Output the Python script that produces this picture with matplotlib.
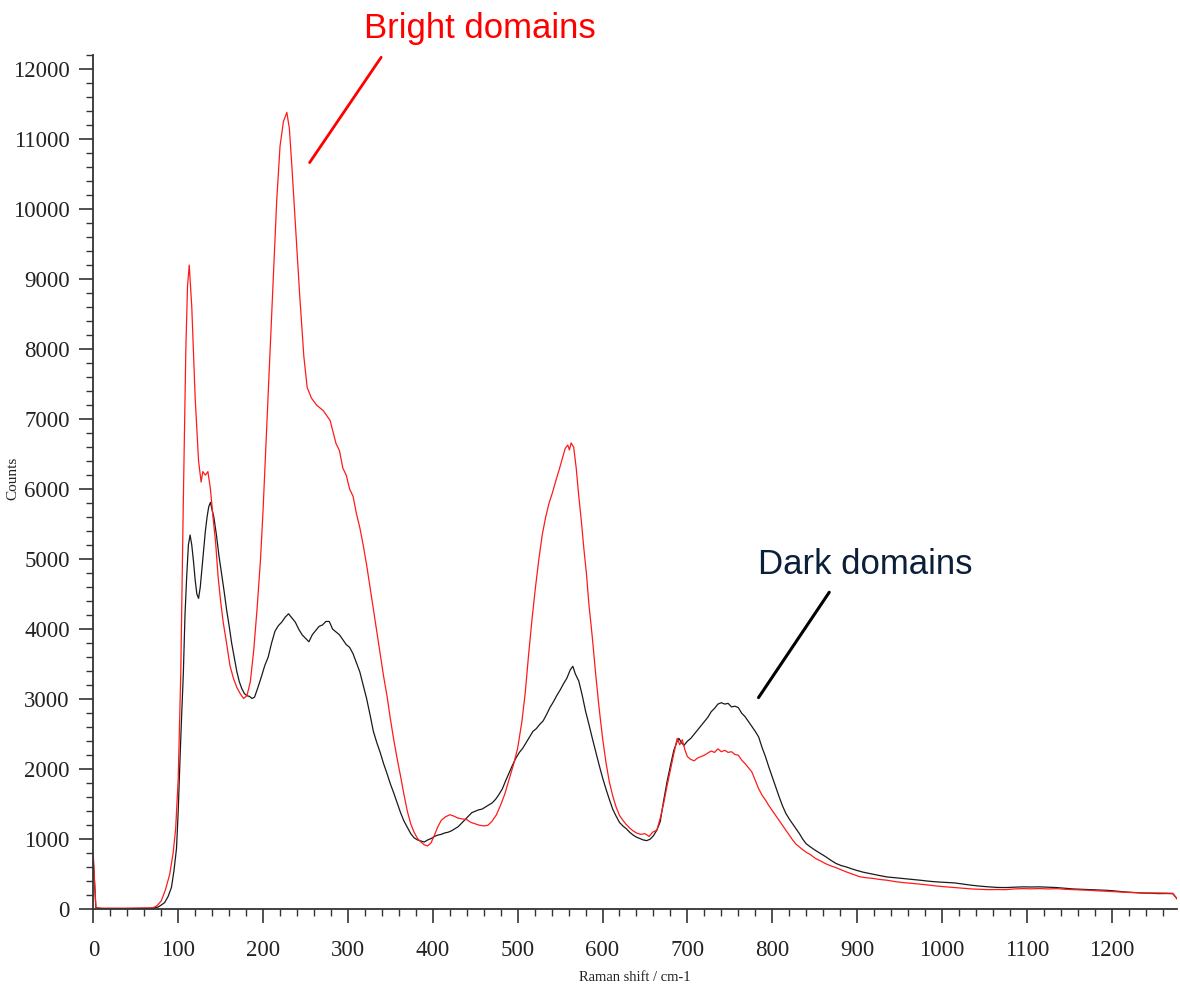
import numpy as np
import matplotlib
matplotlib.use("Agg")
import matplotlib.pyplot as plt
from matplotlib.ticker import MultipleLocator

# raman shift (cm-1) / counts, bright domains
shift_bright = [0, 3, 10, 40, 70, 75, 80, 85, 90, 94, 97, 100, 103, 106, 109, 111, 113, 116, 120, 124,
                127, 129, 132, 135, 138, 141, 144, 147, 150, 153, 157, 161, 165, 169, 173, 177, 181, 185, 189, 193,
                197, 200, 204, 208, 212, 216, 220, 224, 228, 231, 234, 238, 243, 248, 252, 257, 263, 271, 279, 286,
                290, 294, 298, 302, 306, 310, 314, 318, 322, 326, 330, 334, 338, 342, 346, 350, 354, 358, 362, 366,
                370, 374, 378, 382, 386, 390, 394, 398, 402, 406, 410, 415, 420, 425, 430, 435, 440, 445, 450, 455,
                460, 465, 470, 475, 480, 485, 490, 495, 500, 505, 509, 513, 517, 521, 525, 529, 533, 537, 541, 545,
                549, 553, 556, 559, 561, 563, 566, 569, 572, 575, 578, 581, 584, 588, 592, 596, 600, 604, 608, 612,
                616, 620, 624, 628, 632, 636, 640, 645, 650, 655, 659, 664, 668, 672, 676, 680, 684, 688, 691, 694,
                697, 700, 704, 708, 712, 716, 720, 724, 728, 732, 736, 740, 744, 748, 752, 756, 760, 764, 768, 772,
                776, 780, 784, 788, 792, 796, 800, 804, 808, 812, 816, 820, 824, 828, 832, 836, 840, 845, 851, 857,
                863, 869, 875, 881, 887, 895, 903, 911, 919, 927, 935, 945, 955, 965, 975, 985, 995, 1005, 1015, 1025,
                1035, 1045, 1055, 1065, 1075, 1085, 1095, 1105, 1115, 1125, 1135, 1145, 1155, 1165, 1175, 1185, 1195,
                1205, 1215, 1225, 1235, 1245, 1255, 1265, 1272, 1277]
counts_bright = [750, 20, 15, 15, 20, 50, 120, 280, 500, 800, 1150, 1860, 3350, 5800, 8000, 8900, 9200, 8600, 7300, 6400,
                 6100, 6250, 6200, 6250, 6000, 5600, 5250, 4750, 4400, 4100, 3800, 3480, 3300, 3170, 3080, 3010, 3050, 3250, 3700, 4300,
                 5000, 5700, 6800, 7900, 9000, 10100, 10900, 11250, 11380, 11150, 10600, 9800, 8800, 7900, 7450, 7300, 7200, 7120, 6980, 6650,
                 6550, 6300, 6200, 6000, 5900, 5650, 5450, 5200, 4920, 4600, 4280, 3950, 3650, 3330, 3050, 2720, 2420, 2150, 1900, 1640,
                 1400, 1220, 1100, 1010, 960, 920, 905, 950, 1060, 1180, 1270, 1320, 1350, 1330, 1300, 1290, 1280, 1240, 1220, 1200,
                 1190, 1200, 1260, 1350, 1490, 1650, 1860, 2060, 2300, 2680, 3100, 3650, 4150, 4600, 5000, 5350, 5600, 5800, 5950, 6120,
                 6280, 6450, 6580, 6630, 6560, 6660, 6600, 6300, 5900, 5550, 5150, 4800, 4350, 3880, 3350, 2870, 2450, 2100, 1820, 1620,
                 1460, 1340, 1270, 1210, 1160, 1120, 1090, 1070, 1080, 1040, 1100, 1130, 1300, 1510, 1760, 1990, 2220, 2440, 2350, 2420,
                 2280, 2180, 2140, 2120, 2160, 2180, 2200, 2230, 2260, 2240, 2290, 2250, 2270, 2240, 2250, 2210, 2200, 2130, 2080, 2020,
                 1960, 1840, 1720, 1630, 1560, 1480, 1410, 1340, 1270, 1200, 1130, 1060, 990, 930, 890, 850, 815, 780, 725, 690,
                 650, 620, 595, 565, 535, 500, 465, 450, 440, 425, 415, 395, 380, 370, 358, 345, 330, 320, 310, 300,
                 290, 285, 280, 282, 280, 290, 295, 292, 296, 290, 295, 285, 280, 275, 270, 262, 257,
                 250, 243, 238, 233, 232, 233, 230, 228, 150]

# dark domains
shift_dark = [0, 3, 10, 40, 70, 76, 80, 84, 88, 92, 95, 98, 100, 102, 104, 106, 108, 110, 112, 114,
              116, 118, 120, 122, 124, 126, 128, 130, 132, 134, 136, 138, 140, 142, 145, 148, 151, 154, 157, 160,
              163, 166, 169, 172, 175, 178, 181, 184, 187, 190, 194, 198, 202, 206, 210, 214, 218, 222, 226, 230,
              234, 238, 242, 246, 250, 254, 258, 262, 266, 270, 274, 278, 282, 286, 290, 294, 298, 302, 306, 310,
              314, 318, 322, 326, 330, 334, 338, 342, 346, 350, 354, 358, 362, 366, 370, 374, 378, 382, 386, 390,
              394, 398, 402, 406, 410, 414, 418, 422, 426, 430, 434, 438, 442, 446, 450, 454, 458, 462, 466, 470,
              474, 478, 482, 486, 490, 494, 498, 502, 506, 510, 514, 518, 522, 526, 530, 534, 538, 542, 546, 550,
              554, 558, 562, 565, 568, 572, 576, 580, 584, 588, 592, 596, 600, 604, 608, 612, 616, 620, 624, 628,
              632, 636, 640, 644, 648, 652, 656, 660, 664, 668, 672, 676, 680, 684, 688, 690, 693, 696, 700, 704,
              708, 712, 716, 720, 724, 728, 732, 736, 740, 744, 748, 752, 756, 760, 764, 768, 772, 776, 780, 784,
              788, 792, 796, 800, 804, 808, 812, 816, 820, 824, 828, 832, 836, 840, 845, 851, 857, 863, 869, 875,
              881, 887, 893, 899, 907, 915, 925, 935, 945, 955, 965, 975, 985, 995, 1005, 1015, 1025, 1035, 1045, 1055,
              1065, 1075, 1085, 1095, 1105, 1115, 1125, 1135, 1145, 1155, 1165, 1175, 1185, 1195, 1205, 1215, 1225, 1235,
              1245, 1255, 1265, 1272, 1277]
counts_dark = [700, 20, 10, 10, 15, 30, 60, 95, 180, 310, 550, 870, 1400, 2100, 2750, 3350, 4200, 4750, 5200, 5345,
               5200, 4970, 4700, 4500, 4440, 4600, 4870, 5150, 5400, 5600, 5750, 5810, 5700, 5600, 5350, 5050, 4800, 4550, 4280, 4050,
               3800, 3600, 3400, 3250, 3150, 3080, 3050, 3040, 3010, 3030, 3170, 3320, 3480, 3600, 3800, 3970, 4050, 4100, 4170, 4220,
               4160, 4100, 4000, 3920, 3870, 3820, 3920, 3980, 4040, 4060, 4110, 4110, 4000, 3960, 3920, 3850, 3780, 3740, 3650, 3520,
               3390, 3200, 3010, 2780, 2540, 2380, 2240, 2080, 1940, 1790, 1660, 1520, 1380, 1260, 1170, 1080, 1020, 990, 975, 960,
               990, 1010, 1040, 1060, 1070, 1090, 1100, 1120, 1150, 1180, 1230, 1280, 1330, 1380, 1400, 1420, 1430, 1460, 1490, 1520,
               1570, 1640, 1720, 1840, 1950, 2060, 2160, 2240, 2300, 2380, 2460, 2540, 2580, 2640, 2690, 2780, 2880, 2960, 3050, 3130,
               3220, 3300, 3420, 3470, 3360, 3260, 3060, 2830, 2640, 2440, 2250, 2060, 1880, 1720, 1570, 1430, 1330, 1240, 1190, 1150,
               1100, 1060, 1030, 1010, 990, 980, 1000, 1050, 1130, 1250, 1550, 1820, 2050, 2270, 2400, 2440, 2380, 2340, 2400, 2440,
               2500, 2560, 2620, 2680, 2740, 2820, 2870, 2930, 2950, 2930, 2940, 2890, 2900, 2880, 2800, 2750, 2680, 2610, 2540, 2460,
               2310, 2180, 2030, 1890, 1750, 1610, 1480, 1370, 1290, 1220, 1150, 1080, 1000, 935, 890, 840, 795, 750, 700, 655,
               625, 605, 580, 557, 530, 510, 485, 462, 450, 438, 425, 414, 400, 390, 383, 376, 360, 343, 330, 320,
               312, 310, 315, 320, 318, 320, 315, 310, 300, 290, 285, 280, 275, 270, 260, 248, 240, 233,
               228, 224, 225, 222, 150]

x_ticks = np.arange(0, 1300, 100)
y_ticks = np.arange(0, 13000, 1000)

plt.rcParams['font.family'] = ['Liberation Serif', 'DejaVu Serif']

fig = plt.figure(figsize=(11.8, 9.92), dpi=100)
ax = fig.add_axes([0.0791, 0.0834, 0.9184, 0.8612])

ax.plot(shift_dark, counts_dark, color='#1a1a1a', lw=0.9)
ax.plot(shift_bright, counts_bright, color='#ff1a1a', lw=0.9)

ax.set_xlim(0, 1277)
ax.set_ylim(0, 12200)
ax.set_xticks(x_ticks)
ax.set_yticks(y_ticks)
ax.xaxis.set_minor_locator(MultipleLocator(20))
ax.yaxis.set_minor_locator(MultipleLocator(200))

for s in ['top', 'right']:
    ax.spines[s].set_visible(False)
for s in ['left', 'bottom']:
    ax.spines[s].set_color('#333333')
    ax.spines[s].set_linewidth(1.3)

ax.tick_params(which='major', length=10, width=1.2, color='#333333', labelsize=16.5, labelcolor='#222222')
ax.tick_params(which='minor', length=5, width=1.0, color='#333333')
ax.tick_params(axis='y', which='major', pad=7)
ax.tick_params(axis='x', which='major', pad=12)

fig.text(0.538, 0.008, 'Raman shift / cm-1', fontsize=10.5, ha='center', va='bottom', color='#222222')
fig.text(0.011, 0.518, 'Counts', fontsize=11, rotation=90, ha='center', va='center', color='#222222')

# labels pointing at the two spectra
ax.annotate('', xy=(253, 10630), xytext=(341, 12200),
            arrowprops=dict(arrowstyle='-', color='red', lw=2), annotation_clip=False)
ax.text(455, 12580, 'Bright domains', color='red', fontsize=25, family='Liberation Sans',
        ha='center', va='center', clip_on=False)

ax.annotate('', xy=(782, 2990), xytext=(869, 4560),
            arrowprops=dict(arrowstyle='-', color='black', lw=2.2))
ax.text(909, 4930, 'Dark domains', color='#0b1f3a', fontsize=25, family='Liberation Sans',
        ha='center', va='center')

fig.savefig('out.png', dpi=100)
